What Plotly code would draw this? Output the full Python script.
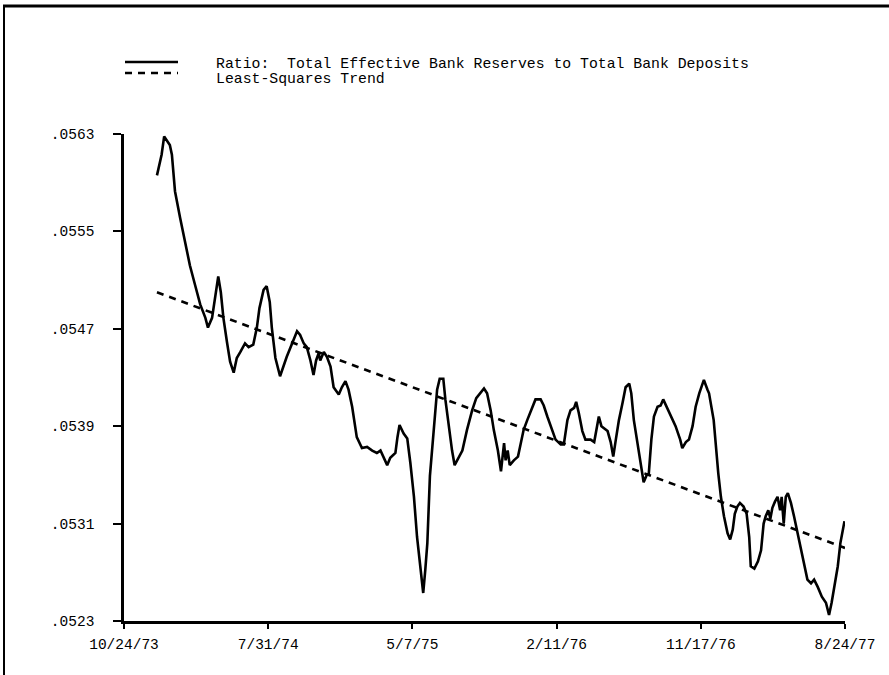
import plotly.graph_objects as go

# ---- data ----
dates = [
    "1973-12-27", "1974-01-02", "1974-01-05", "1974-01-10", "1974-01-15", "1974-01-21", "1974-01-25", "1974-01-31",
    "1974-02-10", "1974-02-20", "1974-03-01", "1974-03-11", "1974-03-21", "1974-03-31", "1974-04-05", "1974-04-13",
    "1974-04-19", "1974-04-25", "1974-04-30", "1974-05-05", "1974-05-12", "1974-05-18", "1974-05-25", "1974-05-31",
    "1974-06-07", "1974-06-16", "1974-06-23", "1974-07-02", "1974-07-09", "1974-07-14", "1974-07-22", "1974-07-28",
    "1974-08-03", "1974-08-07", "1974-08-14", "1974-08-23", "1974-09-05", "1974-09-15", "1974-09-25", "1974-10-01",
    "1974-10-08", "1974-10-14", "1974-10-21", "1974-10-27", "1974-11-01", "1974-11-06", "1974-11-09", "1974-11-16",
    "1974-11-22", "1974-11-29", "1974-12-05", "1974-12-15", "1974-12-21", "1974-12-28", "1975-01-03", "1975-01-10",
    "1975-01-19", "1975-01-29", "1975-02-08", "1975-02-18", "1975-02-27", "1975-03-06", "1975-03-12", "1975-03-19",
    "1975-03-25", "1975-04-04", "1975-04-08", "1975-04-12", "1975-04-20", "1975-04-27", "1975-05-03", "1975-05-10",
    "1975-05-16", "1975-05-23", "1975-05-28", "1975-06-01", "1975-06-05", "1975-06-10", "1975-06-17", "1975-06-24",
    "1975-06-29", "1975-07-06", "1975-07-10", "1975-07-17", "1975-07-23", "1975-07-28", "1975-08-05", "1975-08-12",
    "1975-08-21", "1975-08-31", "1975-09-08", "1975-09-16", "1975-09-23", "1975-09-29", "1975-10-06", "1975-10-12",
    "1975-10-20", "1975-10-26", "1975-11-01", "1975-11-04", "1975-11-08", "1975-11-12", "1975-11-20", "1975-11-28",
    "1975-12-03", "1975-12-09", "1975-12-16", "1975-12-26", "1976-01-01", "1976-01-11", "1976-01-17", "1976-01-24",
    "1976-02-03", "1976-02-09", "1976-02-19", "1976-02-25", "1976-03-03", "1976-03-09", "1976-03-16", "1976-03-20",
    "1976-03-25", "1976-04-01", "1976-04-07", "1976-04-17", "1976-04-24", "1976-04-29", "1976-05-03", "1976-05-08",
    "1976-05-14", "1976-05-20", "1976-05-26", "1976-05-31", "1976-06-05", "1976-06-11", "1976-06-18", "1976-06-24",
    "1976-07-01", "1976-07-05", "1976-07-10", "1976-07-18", "1976-07-23", "1976-07-29", "1976-08-04", "1976-08-08",
    "1976-08-13", "1976-08-18", "1976-08-25", "1976-08-31", "1976-09-05", "1976-09-12", "1976-09-20", "1976-09-29",
    "1976-10-08", "1976-10-12", "1976-10-19", "1976-10-25", "1976-11-01", "1976-11-07", "1976-11-14", "1976-11-23",
    "1976-11-30", "1976-12-03", "1976-12-12", "1976-12-16", "1976-12-21", "1976-12-26", "1977-01-01", "1977-01-08",
    "1977-01-13", "1977-01-18", "1977-01-22", "1977-01-27", "1977-02-01", "1977-02-08", "1977-02-14", "1977-02-19",
    "1977-02-22", "1977-03-01", "1977-03-08", "1977-03-14", "1977-03-19", "1977-03-23", "1977-03-28", "1977-04-01",
    "1977-04-05", "1977-04-10", "1977-04-15", "1977-04-20", "1977-04-23", "1977-04-27", "1977-05-01", "1977-05-05",
    "1977-05-11", "1977-05-17", "1977-05-24", "1977-05-30", "1977-06-06", "1977-06-12", "1977-06-19", "1977-06-25",
    "1977-07-02", "1977-07-10", "1977-07-18", "1977-07-24", "1977-07-29", "1977-08-03", "1977-08-10", "1977-08-15",
    "1977-08-20", "1977-08-23",
]

ratio = [
    0.05596, 0.05607, 0.05613, 0.05628, 0.05625, 0.05621, 0.05613, 0.05583,
    0.05561, 0.05539, 0.05522, 0.05506, 0.05490, 0.05479, 0.05471, 0.05479,
    0.05495, 0.05513, 0.05500, 0.05479, 0.05459, 0.05443, 0.05434, 0.05446,
    0.05451, 0.05458, 0.05455, 0.05457, 0.05471, 0.05487, 0.05502, 0.05505,
    0.05492, 0.05471, 0.05446, 0.05431, 0.05447, 0.05458, 0.05468, 0.05465,
    0.05458, 0.05455, 0.05444, 0.05432, 0.05444, 0.05450, 0.05444, 0.05451,
    0.05447, 0.05439, 0.05422, 0.05416, 0.05422, 0.05427, 0.05420, 0.05406,
    0.05381, 0.05372, 0.05373, 0.05370, 0.05368, 0.05370, 0.05364, 0.05358,
    0.05364, 0.05368, 0.05381, 0.05391, 0.05384, 0.05380, 0.05360, 0.05332,
    0.05299, 0.05272, 0.05253, 0.05272, 0.05294, 0.05349, 0.05384, 0.05420,
    0.05429, 0.05429, 0.05412, 0.05387, 0.05370, 0.05358, 0.05365, 0.05370,
    0.05387, 0.05403, 0.05413, 0.05417, 0.05421, 0.05417, 0.05403, 0.05387,
    0.05370, 0.05353, 0.05376, 0.05362, 0.05370, 0.05358, 0.05362, 0.05365,
    0.05376, 0.05387, 0.05395, 0.05405, 0.05412, 0.05412, 0.05407, 0.05398,
    0.05387, 0.05379, 0.05375, 0.05375, 0.05395, 0.05403, 0.05405, 0.05410,
    0.05401, 0.05386, 0.05379, 0.05379, 0.05377, 0.05390, 0.05398, 0.05390,
    0.05388, 0.05386, 0.05377, 0.05365, 0.05379, 0.05395, 0.05409, 0.05422,
    0.05425, 0.05417, 0.05395, 0.05373, 0.05357, 0.05344, 0.05350, 0.05351,
    0.05379, 0.05398, 0.05406, 0.05407, 0.05412, 0.05406, 0.05398, 0.05390,
    0.05379, 0.05372, 0.05377, 0.05379, 0.05390, 0.05406, 0.05417, 0.05428,
    0.05420, 0.05417, 0.05395, 0.05373, 0.05351, 0.05332, 0.05316, 0.05302,
    0.05297, 0.05305, 0.05318, 0.05324, 0.05327, 0.05324, 0.05318, 0.05299,
    0.05275, 0.05273, 0.05279, 0.05288, 0.05310, 0.05316, 0.05321, 0.05314,
    0.05323, 0.05328, 0.05332, 0.05321, 0.05332, 0.05310, 0.05332, 0.05335,
    0.05327, 0.05316, 0.05302, 0.05288, 0.05275, 0.05264, 0.05261, 0.05264,
    0.05258, 0.05250, 0.05245, 0.05235, 0.05245, 0.05258, 0.05275, 0.05294,
    0.05305, 0.05312,
]

trend_dates = ["1973-12-27", "1977-08-24"]
trend_values = [0.05500, 0.05290]

x_tick_dates = ["1973-10-24", "1974-07-31", "1975-05-07", "1976-02-11", "1976-11-17", "1977-08-24"]
x_tick_labels = ["10/24/73", "7/31/74", "5/7/75", "2/11/76", "11/17/76", "8/24/77"]
y_tick_values = [0.0523, 0.0531, 0.0539, 0.0547, 0.0555, 0.0563]
y_tick_labels = [".0523", ".0531", ".0539", ".0547", ".0555", ".0563"]

series_names = ["Ratio:\u00a0 Total Effective Bank Reserves to Total Bank Deposits",
                "Least-Squares Trend"]

FONT = "Liberation Mono, DejaVu Sans Mono, monospace"

fig = go.Figure()
fig.add_trace(go.Scatter(x=dates, y=ratio, mode="lines", name=series_names[0],
                         line=dict(color="black", width=2.6), showlegend=False))
fig.add_trace(go.Scatter(x=trend_dates, y=trend_values, mode="lines", name=series_names[1],
                         line=dict(color="black", width=2.6, dash="7px,6px"), showlegend=False))

W, H = 889, 675
L, R, T, B = 124, 44, 134, 54
pw, ph = W - L - R, H - T - B

def px(x):
    return (x - L) / pw

def py(y):
    return (H - B - y) / ph

shapes = [
    # outer frame (left and top edges)
    dict(type="line", xref="paper", yref="paper", x0=px(4), x1=px(4), y0=py(700), y1=py(6),
         line=dict(color="black", width=2)),
    dict(type="line", xref="paper", yref="paper", x0=px(3), x1=px(900), y0=py(6), y1=py(6),
         line=dict(color="black", width=3)),
    # legend samples
    dict(type="line", xref="paper", yref="paper", x0=px(125), x1=px(178), y0=py(62), y1=py(62),
         line=dict(color="black", width=2.6)),
    dict(type="line", xref="paper", yref="paper", x0=px(125), x1=px(178), y0=py(73), y1=py(73),
         line=dict(color="black", width=2.6, dash="7px,6px")),
]

annotations = [
    dict(text=series_names[0], xref="paper", yref="paper", x=px(214), y=py(64),
         xanchor="left", yanchor="middle", showarrow=False,
         font=dict(family=FONT, size=14.8, color="black")),
    dict(text=series_names[1], xref="paper", yref="paper", x=px(214), y=py(79),
         xanchor="left", yanchor="middle", showarrow=False,
         font=dict(family=FONT, size=14.8, color="black")),
]

fig.update_layout(
    width=W, height=H,
    margin=dict(l=L, r=R, t=T, b=B, pad=0),
    paper_bgcolor="white", plot_bgcolor="white",
    shapes=shapes, annotations=annotations,
    font=dict(family=FONT, size=14.5, color="black"),
    xaxis=dict(
        type="date", range=["1973-10-24", "1977-08-24"],
        tickmode="array", tickvals=x_tick_dates, ticktext=x_tick_labels,
        showgrid=False, zeroline=False,
        showline=True, linecolor="black", linewidth=2.5,
        ticks="outside", ticklen=5, tickwidth=2, tickcolor="black",
        ticklabelstandoff=3,
        tickfont=dict(family=FONT, size=14.5, color="black"),
    ),
    yaxis=dict(
        range=[0.0523, 0.0563],
        tickmode="array", tickvals=y_tick_values, ticktext=y_tick_labels,
        showgrid=False, zeroline=False,
        showline=True, linecolor="black", linewidth=2.5,
        ticks="outside", ticklen=8, tickwidth=2, tickcolor="black",
        ticklabelstandoff=16,
        tickfont=dict(family=FONT, size=14.5, color="black"),
    ),
)

fig.write_html(
    "out.html",
    config={"displayModeBar": False},
    post_script="document.body.style.margin='0';document.body.style.overflow='hidden';",
)
